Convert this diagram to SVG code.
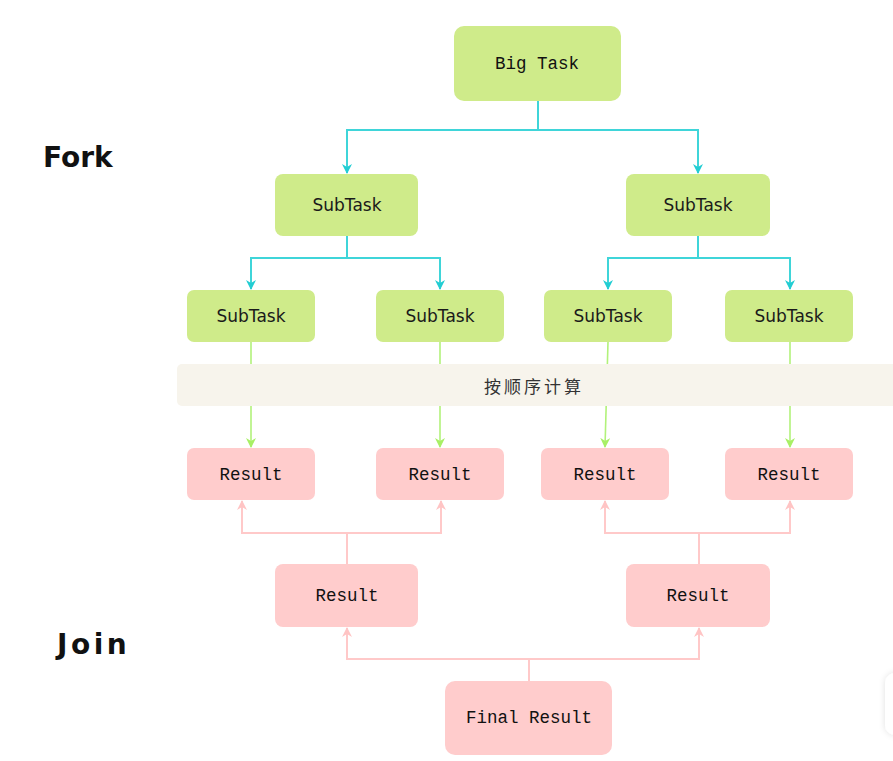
<svg xmlns="http://www.w3.org/2000/svg" width="893" height="761" viewBox="0 0 893 761">
<style>
.g{fill:#cfeb8a}
.p{fill:#ffcccc}
.mono{font-family:"Liberation Mono","DejaVu Sans Mono",monospace;font-size:17.5px;fill:#111;text-anchor:middle;dominant-baseline:central}
.sans{font-family:"DejaVu Sans","Noto Sans",sans-serif;font-size:17px;fill:#1a1a1a;text-anchor:middle;dominant-baseline:central}
.big{font-family:"DejaVu Sans","Noto Sans",sans-serif;font-size:28px;font-weight:bold;fill:#111}
.cy{fill:none;stroke:#3fd5d9;stroke-width:2}
.lg{fill:none;stroke:#b2f27a;stroke-width:1.6}
.pk{fill:none;stroke:#ffc9c9;stroke-width:2}
</style>
<defs>
<marker id="ac" markerWidth="10" markerHeight="10" refX="9" refY="5" orient="auto" markerUnits="userSpaceOnUse"><path d="M0,0 L10,5 L0,10 L3,5 z" fill="#22cdd3"/></marker>
<marker id="al" markerWidth="10" markerHeight="10" refX="9" refY="5" orient="auto" markerUnits="userSpaceOnUse"><path d="M0,0 L10,5 L0,10 L3,5 z" fill="#a8f065"/></marker>
<marker id="ap" markerWidth="10" markerHeight="10" refX="9" refY="5" orient="auto" markerUnits="userSpaceOnUse"><path d="M0,0 L10,5 L0,10 L3,5 z" fill="#ffc4c4"/></marker>
<filter id="sh" x="-50%" y="-50%" width="200%" height="200%"><feDropShadow dx="0" dy="0" stdDeviation="3" flood-color="#000" flood-opacity="0.12"/></filter>
</defs>
<rect width="893" height="761" fill="#fff"/>
<text class="big" x="43" y="167">Fork</text>
<text class="big" x="57" y="654" letter-spacing="3.5">Join</text>
<g id="connectors">
<path class="cy" d="M538,101 V130 H347 V173" marker-end="url(#ac)"/>
<path class="cy" d="M538,130 H698 V173" marker-end="url(#ac)"/>
<path class="cy" d="M347,236 V258 H251 V289" marker-end="url(#ac)"/>
<path class="cy" d="M347,258 H440 V289" marker-end="url(#ac)"/>
<path class="cy" d="M698,236 V258 H608 V289" marker-end="url(#ac)"/>
<path class="cy" d="M698,258 H790 V289" marker-end="url(#ac)"/>
<path class="lg" d="M251,342 V447" marker-end="url(#al)"/>
<path class="lg" d="M440,342 V447" marker-end="url(#al)"/>
<path class="lg" d="M608,342 L605,447" marker-end="url(#al)"/>
<path class="lg" d="M790,342 V447" marker-end="url(#al)"/>
<path class="pk" d="M347,564 V533 H242 V501" marker-end="url(#ap)"/>
<path class="pk" d="M347,533 H441 V501" marker-end="url(#ap)"/>
<path class="pk" d="M699,564 V533 H605 V501" marker-end="url(#ap)"/>
<path class="pk" d="M699,533 H790 V501" marker-end="url(#ap)"/>
<path class="pk" d="M529,681 V659 H347 V628" marker-end="url(#ap)"/>
<path class="pk" d="M529,659 H699 V628" marker-end="url(#ap)"/>
</g>
<g id="band"><rect x="177" y="364" width="720" height="42" rx="5" fill="#f7f4ec"/>
<text x="534" y="385" font-family="'Noto Sans CJK SC',sans-serif" font-size="17" letter-spacing="3" fill="#333" text-anchor="middle" dominant-baseline="central">按顺序计算</text></g>
<g id="bigtask"><rect class="g" x="454" y="26" width="167" height="75" rx="10"/><text class="mono" x="537" y="64">Big Task</text></g>
<g id="sub1"><rect class="g" x="275" y="174" width="143" height="62" rx="8"/><text class="sans" x="347" y="205">SubTask</text></g>
<g id="sub2"><rect class="g" x="626" y="174" width="144" height="62" rx="8"/><text class="sans" x="698" y="205">SubTask</text></g>
<g id="sub11"><rect class="g" x="187" y="290" width="128" height="52" rx="7"/><text class="sans" x="251" y="316">SubTask</text></g>
<g id="sub12"><rect class="g" x="376" y="290" width="128" height="52" rx="7"/><text class="sans" x="440" y="316">SubTask</text></g>
<g id="sub21"><rect class="g" x="544" y="290" width="128" height="52" rx="7"/><text class="sans" x="608" y="316">SubTask</text></g>
<g id="sub22"><rect class="g" x="725" y="290" width="128" height="52" rx="7"/><text class="sans" x="789" y="316">SubTask</text></g>
<g id="res11"><rect class="p" x="187" y="448" width="128" height="52" rx="7"/><text class="mono" x="251" y="475">Result</text></g>
<g id="res12"><rect class="p" x="376" y="448" width="128" height="52" rx="7"/><text class="mono" x="440" y="475">Result</text></g>
<g id="res21"><rect class="p" x="541" y="448" width="128" height="52" rx="7"/><text class="mono" x="605" y="475">Result</text></g>
<g id="res22"><rect class="p" x="725" y="448" width="128" height="52" rx="7"/><text class="mono" x="789" y="475">Result</text></g>
<g id="res1"><rect class="p" x="275" y="564" width="143" height="63" rx="8"/><text class="mono" x="347" y="596">Result</text></g>
<g id="res2"><rect class="p" x="626" y="564" width="144" height="63" rx="8"/><text class="mono" x="698" y="596">Result</text></g>
<g id="final"><rect class="p" x="445" y="681" width="167" height="74" rx="10"/><text class="mono" x="529" y="718">Final Result</text></g>
<rect x="885" y="673" width="40" height="62" rx="10" fill="#fff" filter="url(#sh)"/>
</svg>
